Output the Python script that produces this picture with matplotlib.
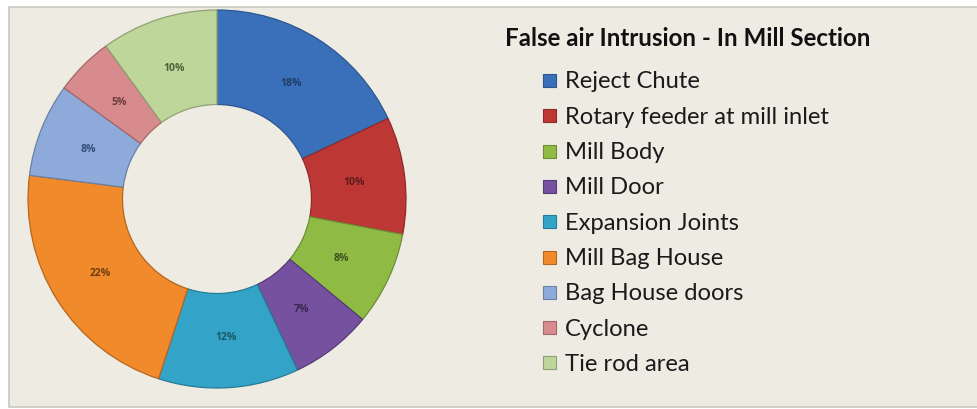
import numpy as np
import matplotlib.pyplot as plt
from matplotlib.patches import Rectangle

# share of false air entering at each point of the mill section (%)
sources = ["Reject Chute", "Rotary feeder at mill inlet", "Mill Body", "Mill Door",
           "Expansion Joints", "Mill Bag House", "Bag House doors", "Cyclone",
           "Tie rod area"]
shares = [18, 10, 8, 7, 12, 22, 8, 5, 10]
title = "False air Intrusion - In Mill Section"

fill = ["#3A6FBA", "#BD3835", "#8FBB45", "#7651A0", "#33A4C7",
        "#F08A2A", "#8DAADA", "#D88B8C", "#BED69A"]
edge = ["#2C568F", "#8E2A28", "#6C8E33", "#573B77", "#267B96",
        "#B5671F", "#6A80A4", "#A36869", "#8FA174"]
txt = ["#1F3D66", "#5E1B1A", "#3D5120", "#3A2750", "#1A5568",
       "#6E3E12", "#2F4C78", "#6B3A3B", "#4F5E38"]

W, H = 978, 410
fig = plt.figure(figsize=(W / 100, H / 100), dpi=100)
fig.patch.set_facecolor("white")

# panel background with a thin grey frame
fig.patches.append(Rectangle((9 / W, 2 / H), 1.0, (H - 10) / H, transform=fig.transFigure,
                             facecolor="#EEEBE2", edgecolor="#C9C7C0", linewidth=1.2,
                             zorder=-5))

# donut
cx, cy, r = 217, 200, 189
ax = fig.add_axes([(cx - r) / W, (H - cy - r) / H, 2 * r / W, 2 * r / H])

wedges, _ = ax.pie(shares, colors=fill, startangle=90, counterclock=False, radius=1.0,
                   wedgeprops=dict(width=0.5, linewidth=0.9))
for w, ec in zip(wedges, edge):
    w.set_edgecolor(ec)
ax.set_xlim(-1, 1)
ax.set_ylim(-1, 1)
ax.set_aspect("equal")
ax.axis("off")

for w, v, c in zip(wedges, shares, txt):
    ang = np.deg2rad((w.theta1 + w.theta2) / 2)
    ax.text(0.73 * np.cos(ang), 0.73 * np.sin(ang), f"{v}%", ha="center", va="center",
            fontsize=7.5, fontweight="bold", color=c, family="Open Sans")

# legend
fig.text(505 / W, 1 - 38 / H, title, ha="left", va="center", fontsize=17.4,
         fontweight="bold", color="#111111", family="Lato")
row0, step = 82, 35.3
for i, (name, c, ec) in enumerate(zip(sources, fill, edge)):
    y = row0 + i * step
    fig.patches.append(Rectangle((543 / W, 1 - (y + 6) / H), 13 / W, 13 / H,
                                 transform=fig.transFigure, facecolor=c,
                                 edgecolor=ec, linewidth=0.8))
    fig.text(565 / W, 1 - y / H, name, ha="left", va="center", fontsize=17.1,
             color="#1A1A1A", family="Lato")

fig.savefig("out.png", dpi=100, facecolor=fig.get_facecolor())
